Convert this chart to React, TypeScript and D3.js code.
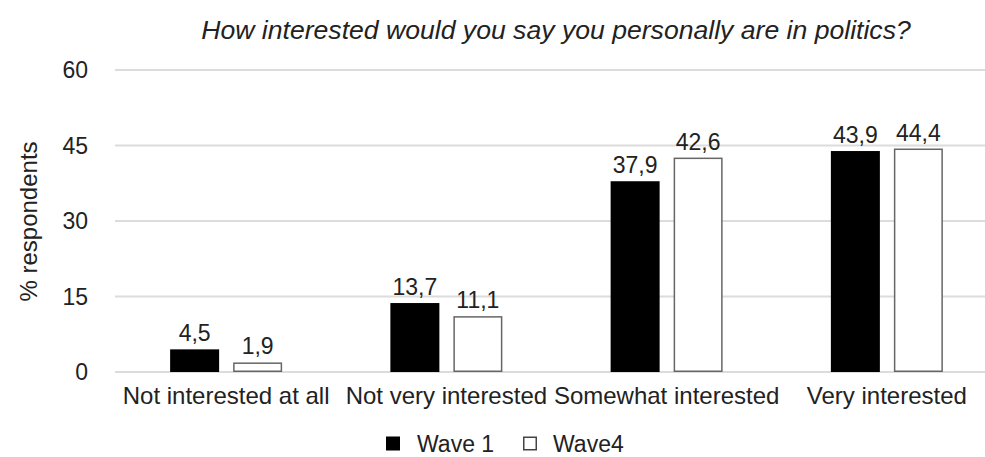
import React from "react";
import * as d3 from "d3";

const categories = ["Not interested at all", "Not very interested", "Somewhat interested", "Very interested"];
const seriesNames = ["Wave 1", "Wave4"];
const wave1 = [4.5, 13.7, 37.9, 43.9];
const wave4 = [1.9, 11.1, 42.6, 44.4];
const yTicks = [0, 15, 30, 45, 60];
const title = "How interested would you say you personally are in politics?";
const yTitle = "% respondents";

const W = 985;
const H = 457;
const FONT = "'Liberation Sans', Arial, Helvetica, sans-serif";

export default function App() {
  const x = d3.scaleBand<string>().domain(categories).range([116, 997]).paddingInner(0).paddingOuter(0);
  const y = d3.scaleLinear().domain([0, 60]).range([372, 70]);
  const barW = 49;
  const gap = 14;
  const fmt = (v: number) => v.toFixed(1).replace(".", ",");
  const series = [wave1, wave4];
  const fills = ["#000", "#fff"];
  const legendY = 443.5;

  return (
    <div style={{ position: "fixed", left: 0, top: 0, width: W, height: H, overflow: "hidden" }}>
      <svg width={W} height={H} style={{ display: "block", background: "#fff" }} fontFamily={FONT}>
        <text x={556} y={39} textAnchor="middle" fontStyle="italic" fontSize={26.6} fill="#222">{title}</text>
        {yTicks.map((t) => (
          <g key={t}>
            <line x1={115} x2={W} y1={y(t)} y2={y(t)} stroke="#dcdcdc" strokeWidth={2} />
            <text x={88} y={y(t)} dy="0.36em" textAnchor="end" fontSize={23} fill="#222">{t}</text>
          </g>
        ))}
        <text transform={`translate(37,${221.5}) rotate(-90)`} textAnchor="middle" fontSize={24} fill="#222">{yTitle}</text>
        {categories.map((c, i) => {
          const cx = (x(c) as number) + x.bandwidth() / 2;
          const left = cx - (barW * 2 + gap) / 2;
          return (
            <g key={c}>
              {series.map((s, j) => {
                const bx = left + j * (barW + gap);
                const top = y(s[i]);
                return (
                  <g key={j}>
                    <rect x={bx + (j ? 0.75 : 0)} y={top + (j ? 0.75 : 0)} width={barW - (j ? 1.5 : 0)} height={y(0) - top - (j ? 1.5 : 0)}
                      fill={fills[j]} stroke={j ? "#666" : "none"} strokeWidth={1.5} />
                    <text x={bx + barW / 2} y={top - 8} textAnchor="middle" fontSize={23} fill="#222">{fmt(s[i])}</text>
                  </g>
                );
              })}
              <text x={cx} y={y(0) + 32} textAnchor="middle" fontSize={24} fill="#222">{c}</text>
            </g>
          );
        })}
        <g>
          <rect x={386} y={legendY - 7} width={14} height={14} fill="#000" />
          <text x={417} y={legendY} dy="0.36em" fontSize={23} fill="#222">{seriesNames[0]}</text>
          <rect x={523.75} y={legendY - 6.25} width={12.5} height={12.5} fill="#fff" stroke="#444" strokeWidth={1.5} />
          <text x={553} y={legendY} dy="0.36em" fontSize={23} fill="#222">{seriesNames[1]}</text>
        </g>
      </svg>
    </div>
  );
}
